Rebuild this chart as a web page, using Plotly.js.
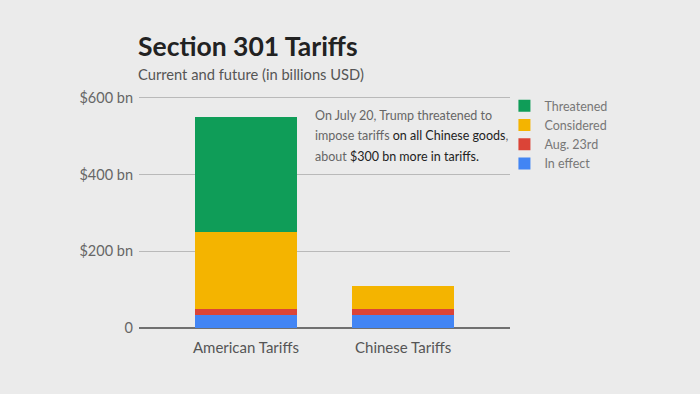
<!DOCTYPE html>
<html><head><meta charset="utf-8">
<script src="https://cdn.plot.ly/plotly-3.0.1.min.js"></script>
<style>html,body{margin:0;padding:0;background:#ebebeb;}#chart{width:700px;height:394px;}</style>
</head><body><div id="chart"></div>
<script>
const categories = ["American Tariffs", "Chinese Tariffs"];
const inEffect = [34, 34];
const aug23 = [16, 16];
const considered = [200, 60];
const threatened = [300, 0];
const yTickVals = [0, 200, 400, 600];
const yTickText = ["0", "$200 bn", "$400 bn", "$600 bn"];

const series = [
  {name: "In effect", y: inEffect, color: "#4285f4"},
  {name: "Aug. 23rd", y: aug23, color: "#db4437"},
  {name: "Considered", y: considered, color: "#f4b400"},
  {name: "Threatened", y: threatened, color: "#0f9d58"}
];
const traces = series.map(s => ({
  type: "bar", x: categories, y: s.y, name: s.name,
  marker: {color: s.color, line: {width: 0}},
  hoverinfo: "none"
}));

const font = "Lato, 'Source Sans Pro', 'Open Sans', sans-serif";
// plot area: top 94, bottom 328 (234 px for 610 units)
const layout = {
  width: 700, height: 394,
  paper_bgcolor: "#ebebeb", plot_bgcolor: "#ebebeb",
  margin: {l: 139, r: 190, t: 94, b: 66},
  barmode: "stack", bargap: 0.35,
  font: {family: font, color: "#555"},
  showlegend: true,
  legend: {x: 0.985, y: 1.012, xanchor: "left", yanchor: "top", traceorder: "reversed",
           font: {size: 12.5, color: "#777"}, bgcolor: "rgba(0,0,0,0)", itemwidth: 30},
  xaxis: {range: [-0.68, 1.68], showgrid: false, zeroline: false, showline: false,
          ticks: "", ticklabelstandoff: 9, tickfont: {size: 15, color: "#555"}, fixedrange: true},
  yaxis: {range: [0, 610], tickvals: yTickVals, ticktext: yTickText,
          showgrid: true, gridcolor: "#b9b9b9", gridwidth: 1,
          zeroline: true, zerolinecolor: "#707070", zerolinewidth: 2,
          showline: false, ticks: "", ticklabelstandoff: 5,
          tickfont: {size: 14.5, color: "#666"}, fixedrange: true},
  annotations: [
    {text: "<b>Section 301 Tariffs</b>", xref: "paper", yref: "paper", x: -0.008, y: 1.205,
     xanchor: "left", yanchor: "middle", showarrow: false, font: {size: 26.5, color: "#222", family: font}},
    {text: "Current and future (in billions USD)", xref: "paper", yref: "paper", x: -0.008, y: 1.085,
     xanchor: "left", yanchor: "middle", showarrow: false, font: {size: 14.7, color: "#555", family: font}},
    {text: "On July 20, Trump threatened to", xref: "paper", yref: "paper", x: 0.47, y: 0.906,
     xanchor: "left", yanchor: "middle", showarrow: false, font: {size: 12.5, color: "#666", family: font}},
    {text: "impose tariffs <span style='color:#222'>on all Chinese goods</span>,", xref: "paper", yref: "paper", x: 0.47, y: 0.821,
     xanchor: "left", yanchor: "middle", showarrow: false, font: {size: 12.5, color: "#666", family: font}},
    {text: "about <span style='color:#222'>$300 bn more in tariffs.</span>", xref: "paper", yref: "paper", x: 0.47, y: 0.735,
     xanchor: "left", yanchor: "middle", showarrow: false, font: {size: 12.5, color: "#666", family: font}}
  ]
};
Plotly.newPlot("chart", traces, layout, {displayModeBar: false, staticPlot: true});
</script></body></html>
